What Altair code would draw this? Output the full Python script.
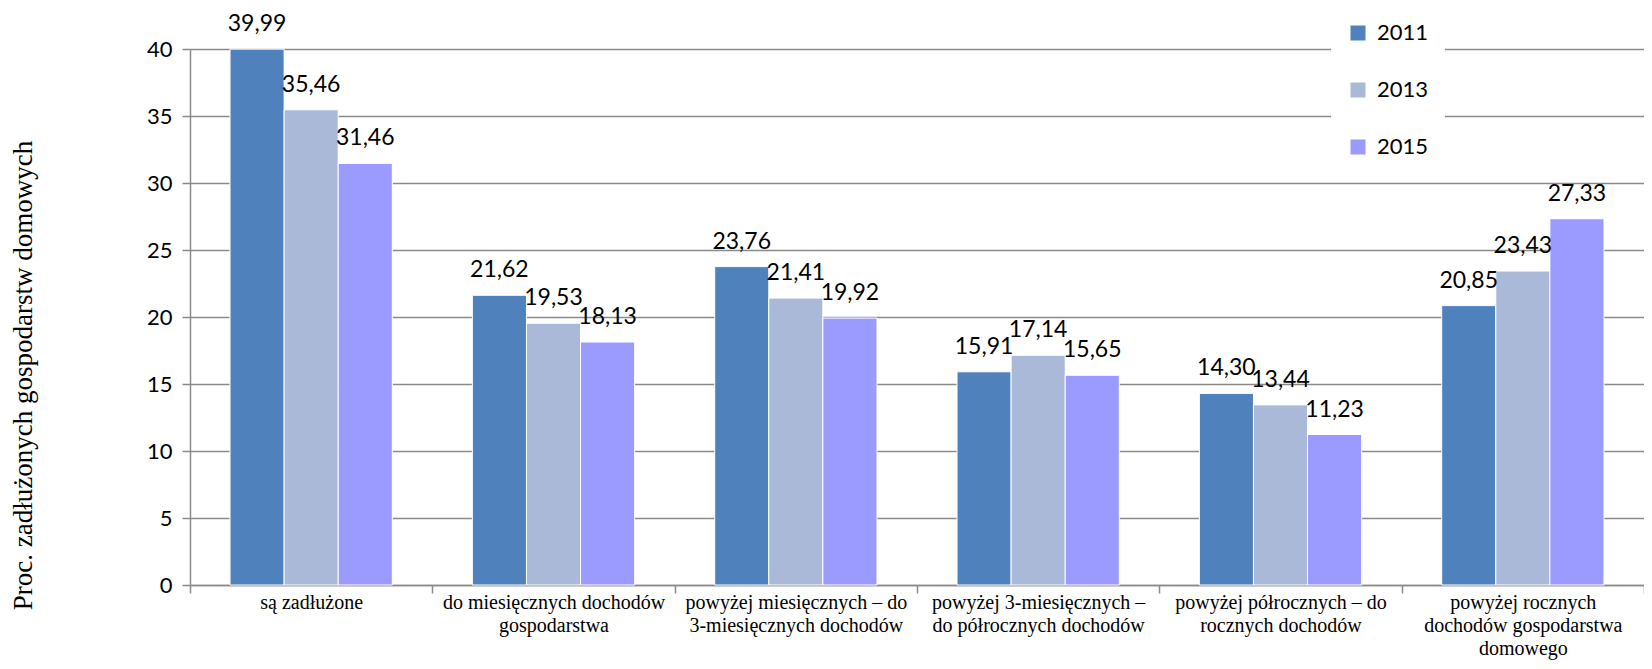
import altair as alt
import pandas as pd

categories = [
    "są zadłużone",
    "do miesięcznych dochodów|gospodarstwa",
    "powyżej miesięcznych – do|3-miesięcznych dochodów",
    "powyżej 3-miesięcznych –|do półrocznych dochodów",
    "powyżej półrocznych – do|rocznych dochodów",
    "powyżej rocznych|dochodów gospodarstwa|domowego",
]
years = ["2011", "2013", "2015"]
v2011 = [39.99, 21.62, 23.76, 15.91, 14.30, 20.85]
v2013 = [35.46, 19.53, 21.41, 17.14, 13.44, 23.43]
v2015 = [31.46, 18.13, 19.92, 15.65, 11.23, 27.33]
colors = ["#4F81BD", "#AAB9D7", "#9A9AFF"]

rows = []
for y, vals in zip(years, [v2011, v2013, v2015]):
    for c, v in zip(categories, vals):
        rows.append({"cat": c, "year": y, "value": v})
df = pd.DataFrame(rows)

x = alt.X(
    "cat:N",
    sort=categories,
    title=None,
    scale=alt.Scale(paddingInner=0, paddingOuter=0),
    axis=alt.Axis(
        labelAngle=0,
        labelExpr="split(datum.label, '|')",
        labelFont="Liberation Serif",
        labelFontSize=20,
        labelLineHeight=23,
        labelColor="#000000",
        labelLimit=400,
        labelPadding=-1,
        tickBand="extent",
        tickSize=8,
        tickColor="#8a8a8a",
        tickWidth=1.5,
        domainColor="#8a8a8a",
        domainWidth=1.5,
        grid=False,
    ),
)

base = alt.Chart(df).encode(
    x=x,
    xOffset=alt.XOffset(
        "year:N", sort=years, scale=alt.Scale(paddingInner=0, paddingOuter=0.74)
    ),
)

bars = base.mark_bar(stroke="white", strokeWidth=1).encode(
    y=alt.Y(
        "value:Q",
        scale=alt.Scale(domain=[0, 40], nice=False),
        title="Proc. zadłużonych gospodarstw domowych",
        axis=alt.Axis(
            values=list(range(0, 41, 5)),
            labelFont="Lato",
            labelFontSize=22,
            labelColor="#000000",
            labelPadding=10,
            tickSize=8,
            tickColor="#8a8a8a",
            tickWidth=1.5,
            domainColor="#8a8a8a",
            domainWidth=1.5,
            gridColor="#8a8a8a",
            gridWidth=1.5,
            titleFont="Liberation Serif",
            titleFontSize=27,
            titleFontWeight="normal",
            titleColor="#000000",
            titleX=-167,
            titleY=326,
            titleAlign="center",
            titleBaseline="middle",
        ),
    ),
    color=alt.Color(
        "year:N",
        sort=years,
        scale=alt.Scale(domain=years, range=colors),
        legend=alt.Legend(
            title=None,
            orient="none",
            legendX=1141,
            legendY=-43,
            padding=16,
            fillColor="white",
            symbolType="square",
            symbolSize=225,
            symbolStrokeWidth=0,
            labelFont="Lato",
            labelFontSize=22,
            labelColor="#000000",
            labelOffset=8,
            rowPadding=35,
        ),
    ),
)

labels = base.mark_text(
    font="Lato", fontSize=23, color="#000000", baseline="middle", dy=-25
).transform_calculate(
    lbl="replace(format(datum.value, '.2f'), '.', ',')"
).encode(
    y=alt.Y("value:Q"),
    text="lbl:N",
)

chart = (
    alt.layer(bars, labels)
    .properties(
        width=1454,
        height=536,
        autosize=alt.AutoSizeParams(type="none"),
        padding={"left": 182, "top": 41, "right": 0, "bottom": 76},
    )
    .configure_view(stroke=None)
)

chart.save("out.html", embed_options={"renderer": "svg", "actions": False})
